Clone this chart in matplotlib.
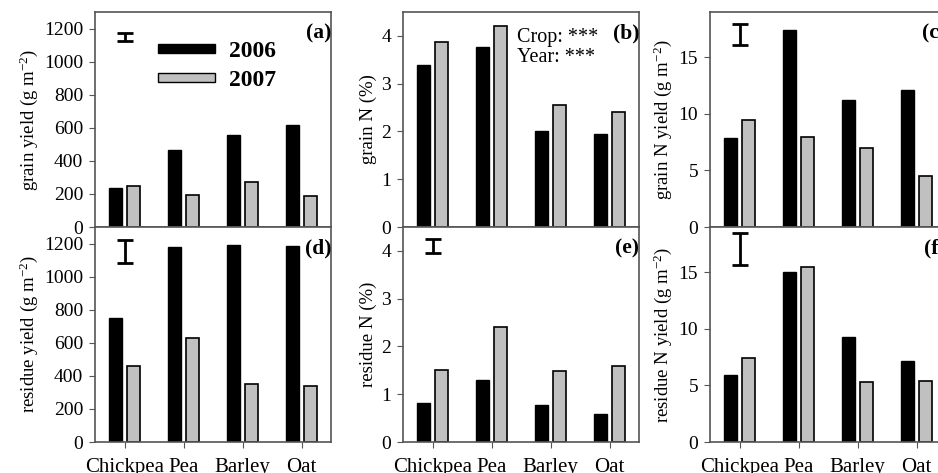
import matplotlib
matplotlib.use("Agg")
import matplotlib.pyplot as plt
from matplotlib.patches import Patch
import numpy as np

plt.rcParams['font.family'] = ['Liberation Serif', 'DejaVu Serif']
plt.rcParams['mathtext.fontset'] = 'custom'
plt.rcParams['mathtext.rm'] = 'Liberation Serif'
plt.rcParams['mathtext.it'] = 'Liberation Serif:italic'
plt.rcParams['mathtext.default'] = 'regular'

crops = ['Chickpea', 'Pea', 'Barley', 'Oat']
years = ['2006', '2007']

# grain
grain_yield_2006 = [237, 466, 559, 619]
grain_yield_2007 = [247, 192, 273, 189]
grain_n_2006 = [3.40, 3.77, 2.00, 1.95]
grain_n_2007 = [3.88, 4.21, 2.56, 2.41]
grain_ny_2006 = [7.9, 17.4, 11.2, 12.1]
grain_ny_2007 = [9.45, 7.95, 6.95, 4.5]

# residue
res_yield_2006 = [747, 1179, 1190, 1185]
res_yield_2007 = [461, 630, 352, 338]
res_n_2006 = [0.82, 1.29, 0.77, 0.58]
res_n_2007 = [1.50, 2.40, 1.48, 1.60]
res_ny_2006 = [5.88, 15.05, 9.24, 7.2]
res_ny_2007 = [7.38, 15.5, 5.26, 5.35]

# LSD bars (low, high) drawn over Chickpea position
lsd_a = (1125, 1175)
lsd_c = (16.05, 17.95)
lsd_d = (1080, 1220)
lsd_e = (3.95, 4.25)
lsd_f = (15.65, 18.5)

W, H = 938, 473
fig = plt.figure(figsize=(W / 100, H / 100), dpi=100)


def px_axes(x0, ytop, w, h):
    return fig.add_axes([x0 / W, (H - ytop - h) / H, w / W, h / H])


lefts = [95, 403, 710]
tops = [12, 227]
pw, ph = 236, 215

x = np.arange(len(crops))
bw = 0.22
off = 0.155


def panel(ax, v06, v07, ylim, yticks, ylabel, tag, bottom, lsd=None):
    ax.bar(x - off, v06, bw, color='black', edgecolor='black', linewidth=1)
    ax.bar(x + off, v07, bw, color='#c0c0c0', edgecolor='black', linewidth=1.2)
    ax.set_xlim(-0.5, 3.5)
    ax.set_ylim(*ylim)
    ax.set_yticks(yticks)
    ax.set_ylabel(ylabel, fontsize=13.5, labelpad=3)
    for s in ax.spines.values():
        s.set_color('#555555')
        s.set_linewidth(1.2)
    ax.tick_params(axis='y', labelsize=14, length=4, color='#555555', pad=4.5)
    if bottom:
        ax.set_xticks(x)
        ax.set_xticklabels(crops, fontsize=15)
        ax.tick_params(axis='x', length=4, color='#555555', pad=7.5)
    else:
        ax.set_xticks([])
    ax.text(1.0, 0.879, tag, transform=ax.transAxes, ha='right', va='baseline',
            fontsize=15.5, fontweight='bold')
    if lsd is not None:
        mid = (lsd[0] + lsd[1]) / 2
        ax.errorbar([0], [mid], yerr=[[mid - lsd[0]], [lsd[1] - mid]], fmt='none',
                    ecolor='black', elinewidth=2, capsize=5.5, capthick=2)


ax_a = px_axes(lefts[0], tops[0], pw, ph)
panel(ax_a, grain_yield_2006, grain_yield_2007, (0, 1300), range(0, 1201, 200),
      'grain yield (g m$^{-2}$)', '(a)', False, lsd_a)
handles = [Patch(facecolor='black', edgecolor='black', linewidth=1),
           Patch(facecolor='#c0c0c0', edgecolor='black', linewidth=1)]
ax_a.legend(handles, years, loc='upper left', bbox_to_anchor=(0.265, 0.865),
            frameon=False, handlelength=2.42, handleheight=0.23, handletextpad=0.6,
            labelspacing=0.35, borderpad=0, borderaxespad=0,
            prop={'size': 17, 'weight': 'bold'})

ax_b = px_axes(lefts[1], tops[0], pw, ph)
panel(ax_b, grain_n_2006, grain_n_2007, (0, 4.5), range(0, 5),
      'grain N (%)', '(b)', False)
ax_b.text(0.485, 0.859, 'Crop: ***', transform=ax_b.transAxes,
          ha='left', va='baseline', fontsize=14.5)
ax_b.text(0.485, 0.769, 'Year: ***', transform=ax_b.transAxes,
          ha='left', va='baseline', fontsize=14.5)

ax_c = px_axes(lefts[2], tops[0], pw, ph)
panel(ax_c, grain_ny_2006, grain_ny_2007, (0, 19), [0, 5, 10, 15],
      'grain N yield (g m$^{-2}$)', '(c)', False, lsd_c)

ax_d = px_axes(lefts[0], tops[1], pw, ph)
panel(ax_d, res_yield_2006, res_yield_2007, (0, 1300), range(0, 1201, 200),
      'residue yield (g m$^{-2}$)', '(d)', True, lsd_d)

ax_e = px_axes(lefts[1], tops[1], pw, ph)
panel(ax_e, res_n_2006, res_n_2007, (0, 4.5), range(0, 5),
      'residue N (%)', '(e)', True, lsd_e)

ax_f = px_axes(lefts[2], tops[1], pw, ph)
panel(ax_f, res_ny_2006, res_ny_2007, (0, 19), [0, 5, 10, 15],
      'residue N yield (g m$^{-2}$)', '(f)', True, lsd_f)

fig.savefig('out.png', dpi=100)
